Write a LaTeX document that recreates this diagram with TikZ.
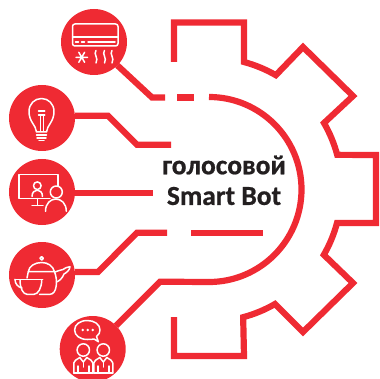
\documentclass[tikz,border=0pt]{standalone}
\usepackage{fontspec}
\setmainfont[BoldFeatures={FakeBold=0.7}]{Carlito}
\definecolor{botred}{HTML}{EF2A33}
\definecolor{ink}{HTML}{231F20}
\tikzset{
  band/.style={draw=botred,line width=6.2pt,miter limit=10},
  badge/.style={circle,fill=botred,minimum size=66pt,inner sep=0pt,outer sep=0pt},
  ic/.style={draw=white,line width=1.5pt,line cap=round,line join=round},
  label/.style={text=ink,font=\fontsize{27.5}{30}\selectfont\bfseries,inner sep=0pt}
}
\begin{document}
\begin{tikzpicture}[x=1pt,y=-1pt]
\useasboundingbox (0,0) rectangle (379,379);
% gear
\draw[band] (174,62) -- (174,22.5) -- (244,22.5) -- (244,62)
  arc[start angle=-75,end angle=-60,radius=132] -- (303,47) -- (353,96) -- (324,123)
  arc[start angle=-30,end angle=-15,radius=132] -- (376,155) -- (376,223) -- (337,223)
  arc[start angle=15,end angle=30,radius=132] -- (353,283) -- (303,332) -- (275,304)
  arc[start angle=60,end angle=75,radius=132] -- (244,356) -- (174,356) -- (174,317);
% badges
\node[badge] (c1) at (94,42) {};
\node[badge] (c2) at (42,118) {};
\node[badge] (c3) at (42,192) {};
\node[badge] (c4) at (42,275) {};
\node[badge] (c5) at (92.7,349) {};
% named free ends
\coordinate (e1) at (165,97.5);
\coordinate (e2) at (171,144.7);
\coordinate (e3) at (153,192.7);
\coordinate (e4) at (167,232.7);
\coordinate (d1a) at (177,97.5);
\coordinate (d1b) at (194,97.5);
\coordinate (d2a) at (191,233.3);
\coordinate (d2b) at (263,233.3);
\coordinate (a0) at (209,97);
\coordinate (a1) at (209,282);
% connectors
\draw[band] (c1.-45) -- (152,97.5) -- (e1);
\draw[band] (d1a) -- (d1b);
\draw[band] (c2.east |- 0,115.7) -- (108,115.7) -- (137,144.7) -- (e2);
\draw[band] (c3.east |- e3) -- (e3);
\draw[band] (c4.east |- 0,272) -- (98,272) -- (137,232.7) -- (e4);
\draw[band] (d2a) -- (d2b);
\draw[band] (c5.45) -- (160,281.7) -- (a1);
\draw[band] (a0) arc[start angle=-90,end angle=90,radius=92.5];
% text
\node[label] (t1) at (224,165) {голосовой};
\node[label] (t2) at (224,196) {Smart Bot};
% AC
\draw[ic] (75,24) -- (115.5,24) .. controls (117,24) and (118,25) .. (118,26.5) -- (118,43.5) .. controls (118,45) and (117,46) .. (115.5,46) -- (75,46) .. controls (73.5,46) and (72.5,45) .. (72.5,43.5) -- (72.5,26.5) .. controls (72.5,25) and (73.5,24) .. (75,24) -- cycle;
\draw[ic] (72.5,37) -- (118,37);
\draw[ic] (75.5,42) -- (78.5,42) (81.5,42) -- (84.5,42) (88,42) -- (115,42);
\draw[ic] (76,57.3) -- (87.5,57.3) (78.8,52.3) -- (84.6,62.3) (84.6,52.3) -- (78.8,62.3);
\foreach \wx in {96,104.5,112}{
  \draw[ic] (\wx,50.5) .. controls (\wx-3,54) and (\wx+3,58) .. (\wx,63);
}
% bulb
\draw[ic] (36.5,132) .. controls (36,125) and (29,122) .. (29,111.5)
  .. controls (29,104) and (34.5,98.5) .. (41.5,98.5)
  .. controls (48.5,98.5) and (54,104) .. (54,111.5)
  .. controls (54,122) and (47,125) .. (46.5,132) -- cycle;
\draw[ic] (38.5,111) -- (44.7,111) (38.5,115) -- (44.7,115);
\draw[line width=.7pt,draw=white] (40,115) -- (40,132) (43.2,115) -- (43.2,132);
\draw[ic] (36.5,135) -- (46.5,135) (37,138) -- (46,138) (39,140.5) -- (44,140.5);
% presenter
\draw[ic] (50,198.7) -- (19,198.7) -- (19,174.7) -- (58,174.7) -- (58,186);
\draw[ic] (37.3,198.7) -- (37.3,205.3) (32,205.3) -- (43,205.3);
\draw[ic] (37.3,185.7) circle[radius=3.8];
\draw[ic] (32,196.5) .. controls (32,188) and (42.5,188) .. (42.5,196.5);
\draw[ic] (56.3,192) circle[radius=6];
\draw[ic] (45.5,211.3) .. controls (45.5,195) and (66.3,195) .. (66.3,211.3);
% teapot
\draw[ic] (41.7,258.3) circle[radius=1.7];
\draw[ic] (28.3,271.7) .. controls (29,266) and (35,262.5) .. (41.7,262.5) .. controls (48,262.5) and (53,266) .. (54.5,271.7) -- (28.3,271.7);
\draw[ic] (28.3,271.7) -- (27,278);
\draw[ic] (54.5,271.7) .. controls (58,280) and (57,294.3) .. (50,294.3) -- (39.5,294.3);
\draw[ic] (55,272) .. controls (58,271) and (60,270) .. (63,269.5) .. controls (65,268) and (67,267) .. (70,266.7) .. controls (70,270) and (66,273) .. (64,274) .. controls (62,279) and (59,281) .. (56.5,282);
\draw[ic] (15,279.3) -- (42.7,279.3);
\draw[ic] (20,280) .. controls (20,288) and (23,294.3) .. (27,294.3) -- (34,294.3) .. controls (38,294.3) and (41.7,288) .. (41.7,280);
\draw[ic] (15,279.3) .. controls (15,284) and (18,287) .. (22,288);
% people
\draw[ic] (94,339) .. controls (96,340) and (97,341) .. (98.3,341.7) .. controls (98,340) and (97,338.5) .. (96.5,336.5)
  .. controls (99,334.5) and (100,332.5) .. (100,330) .. controls (100,324.5) and (94.5,320.5) .. (87.3,320.5)
  .. controls (80,320.5) and (74.6,324.5) .. (74.6,330) .. controls (74.6,335.5) and (80,339.5) .. (87.3,339.5) .. controls (90,339.5) and (92,339.5) .. (94,339);
\fill[white] (82.7,330) circle[radius=1.4] (87.7,330) circle[radius=1.4] (92.7,330) circle[radius=1.4];
\foreach \px in {83.3,103.3}{
  \draw[ic] (\px,350) circle[radius=6.2];
  \draw[ic] (\px-9.5,373) -- (\px-9.5,363) .. controls (\px-9.5,360.5) and (\px-7,360) .. (\px-3.5,357.5);
  \draw[ic] (\px+9.5,373) -- (\px+9.5,363) .. controls (\px+9.5,360.5) and (\px+7,360) .. (\px+3.5,357.5);
  \draw[ic] (\px-3.5,357.5) -- (\px,362) -- (\px+3.5,357.5);
  \draw[ic] (\px,362) -- (\px,367);
  \draw[ic] (\px-5.5,366) -- (\px-5.5,373) (\px+5.5,366) -- (\px+5.5,373) (\px-9.5,373) -- (\px+9.5,373);
}
\end{tikzpicture}
\end{document}
